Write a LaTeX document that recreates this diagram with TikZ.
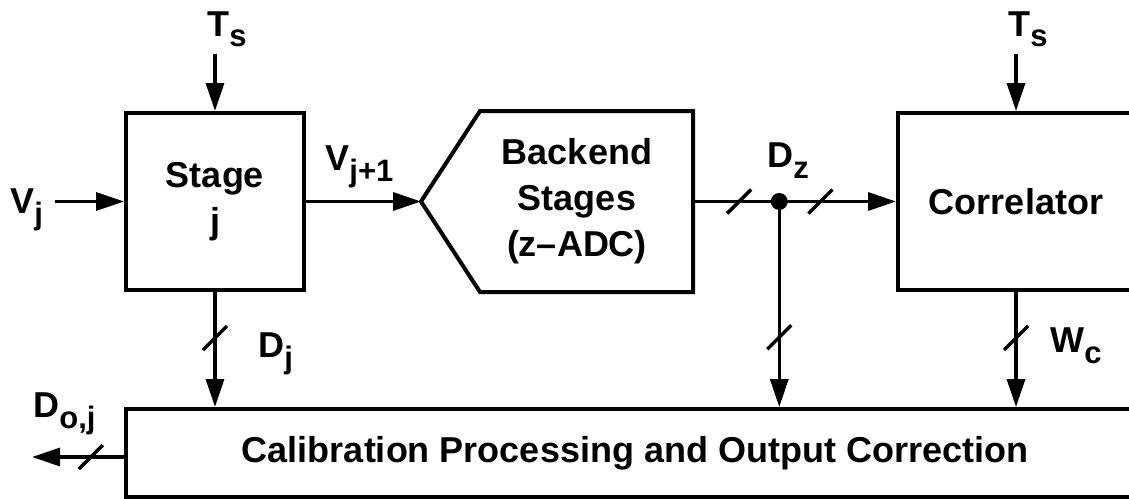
\documentclass[tikz,border=0pt]{standalone}
\usepackage{fontspec}
\setmainfont{Liberation Sans}
\usetikzlibrary{arrows.meta,positioning}
\newcommand{\sbs}[1]{\raisebox{-5.5pt}{\fontsize{15.5}{15.5}\selectfont #1}}

\begin{document}
\begin{tikzpicture}[x=0.5pt,y=-0.5pt,
    font=\fontsize{18}{23}\selectfont\bfseries,
    blockbox/.style={rectangle, draw, line width=2pt, align=center, inner sep=0pt},
    sig/.style={anchor=base west, inner sep=1pt},
    arrow/.style={-{Triangle[length=14pt,width=9pt]}, line width=1.7pt},
    busmark/.style={line width=1.7pt},
    junction/.style={circle, fill, inner sep=0pt, minimum size=8.5pt}
]
\useasboundingbox (0,0) rectangle (1129,498);
\clip (0,0) rectangle (1129,498);

% Blocks
\node[blockbox, minimum width=89pt, minimum height=88.5pt] (stage) at (215,201.5) {Stage\\j};
\node[blockbox, draw=none, minimum width=114pt, minimum height=88.5pt] (be) at (577,201.5) {Backend\\Stages\\(z--ADC)};
\draw[line width=2pt] ([xshift=9.5pt]be.north west) -- (be.north east) -- (be.south east)
    -- ([xshift=9.5pt]be.south west) -- ([xshift=-20pt]be.west) coordinate (bin) -- cycle;
\coordinate (bout) at (be.east);
\node[blockbox, minimum width=118pt, minimum height=88.5pt] (corr) at (1016,201.5) {Correlator};
\node[blockbox, minimum width=509pt, minimum height=44pt] (cal) at (635,453) {Calibration Processing and Output Correction};

% Signal labels
\node[sig] (tsa) at (205,36) {T\sbs{s}};
\node[sig] (tsb) at (1006,36) {T\sbs{s}};
\node[sig] (vj) at (8,213) {V\sbs{j}};
\node[sig] (vjn) at (323,170) {V\sbs{j+1}};
\node[sig] (dz) at (765,167) {D\sbs{z}};
\node[sig] (dj) at (256,357) {D\sbs{j}};
\node[sig] (wc) at (1048,352) {W\sbs{c}};
\node[sig] (doj) at (31,417) {D\sbs{o,j}};
\coordinate (dout) at (32,457);

% Connections
\draw[arrow, shorten <=2pt] (tsa.south -| stage.north) -- (stage.north);
\draw[arrow, shorten <=2pt] (tsb.south -| corr.north) -- (corr.north);
\draw[arrow, shorten <=5pt] (vj.east |- stage.west) -- (stage.west);
\draw[arrow] (stage.east) -- (bin);
\draw[arrow] (bout) -- coordinate[pos=0.227] (bz1) coordinate[pos=0.425] (tap)
    coordinate[pos=0.628] (bz2) (corr.west);
\node[junction] (jn) at (tap) {};
\draw[arrow] (jn.center) -- coordinate[pos=0.66] (bz3) (tap |- cal.north);
\draw[arrow] (stage.south) -- coordinate[pos=0.4] (bj) (stage.south |- cal.north);
\draw[arrow] (corr.south) -- coordinate[pos=0.4] (bc) (corr.south |- cal.north);
\draw[arrow] (cal.west |- dout) -- coordinate[pos=0.36] (bo) (dout);

% Bus width marks
\foreach \b in {bz1,bz2,bz3,bj,bc,bo}
    \draw[busmark] (\b) +(-12,12) -- +(12,-12);

\end{tikzpicture}
\end{document}
